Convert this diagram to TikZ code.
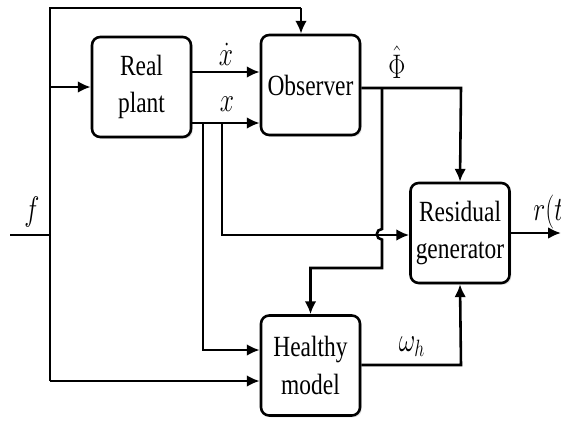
\documentclass[tikz,border=0pt]{standalone}
\usepackage{fontspec}
\setmainfont{Liberation Serif}[FakeStretch=0.8]
\usetikzlibrary{arrows.meta,shadows}
\newcommand{\tallmath}[1]{\scalebox{1.05}[1.4]{$#1$}}

\begin{document}
\begin{tikzpicture}[x=0.03cm, y=-0.03cm,
    block/.style={draw, line width=2.2pt, rounded corners=7pt, fill=white, align=center,
        minimum width=2.97cm, minimum height=3cm, inner sep=0pt,
        font=\fontsize{25}{32}\selectfont,
        drop shadow={opacity=0.25, shadow xshift=1.5pt, shadow yshift=-1.5pt}},
    wire/.style={line width=2.2pt},
    arr/.style={wire, -{Latex[length=11pt,width=10pt]}},
    lbl/.style={font=\fontsize{20}{24}\selectfont, inner sep=1pt}]
    \useasboundingbox (0,0) rectangle (561,421);
    \clip (0,0) rectangle (561,421);

    % Blocks
    \node[block] (plant) at (141.5,87) {Real\\plant};
    \node[block] (obs) at (310.5,85) {Observer};
    \node[block] (res) at (460,233) {Residual\\generator};
    \node[block] (healthy) at (310.5,365.5) {Healthy\\model};

    % Fault input bus
    \coordinate (fin) at (10,235);
    \coordinate (ftop) at (50,8);
    \coordinate (fbot) at (50,381);
    \coordinate (otop) at (301,8);
    \draw[wire] (fin) -- (fin -| ftop);
    \draw[wire] (fbot) -- (ftop) -- (otop);
    \draw[arr] (otop) -- (otop |- obs.north);
    \draw[arr] (ftop |- plant.west) -- (plant.west);
    \draw[arr] (fbot) -- (fbot -| healthy.west);
    \node[lbl] (flbl) at (32,212) {\tallmath{f}};

    % Plant outputs
    \draw[arr] (plant.east |- 0,72) -- (obs.west |- 0,72);
    \draw[arr] (plant.east |- 0,123) -- (obs.west |- 0,123);
    \node[lbl] (xdot) at (226,54) {\tallmath{\dot{x}}};
    \node[lbl] (xs) at (227,104) {\tallmath{x}};
    \draw[arr] (203,123) -- (203,350) -- (healthy.west |- 0,350);
    \draw[arr] (222,123) -- (222,235) -- (res.west |- 0,235);

    % Observer output
    \draw[arr] (obs.east |- 0,88) -- (461,88) -- (res.north);
    \node[lbl] (phi) at (397,62) {\tallmath{\hat{\Phi}}};
    % branch to healthy model (jumps over x line)
    \draw[arr] (382,88) -- (382,229) arc[start angle=90, end angle=270, radius=4.5pt]
        -- (382,268) -- (healthy.north |- 0,268) -- (healthy.north);

    % Healthy model output
    \draw[arr] (healthy.east |- 0,365) -- (461,365) -- (res.south);
    \node[lbl] (omega) at (412,347) {\tallmath{\omega_h}};

    % Residual
    \draw[arr] (res.east) -- (res.east -| 561,0);
    \node[lbl, anchor=west] (rt) at (532,212) {\tallmath{r(t)}};
\end{tikzpicture}
\end{document}
